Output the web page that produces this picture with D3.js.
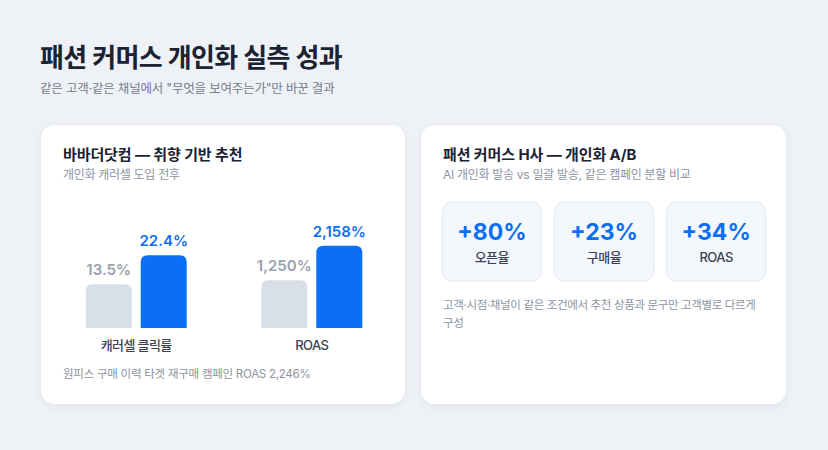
<!DOCTYPE html>
<html lang="ko">
<head>
<meta charset="utf-8">
<script src="https://cdn.jsdelivr.net/npm/d3@7"></script>
<style>
  html, body { margin: 0; padding: 0; background: #eef1f6; }
  svg { display: block; }
  text { font-family: Inter, "Noto Sans CJK KR", "Noto Sans", sans-serif; }
</style>
</head>
<body>
<svg id="chart" width="828" height="450"></svg>
<script>
// ---- data ----
const pageTitle = "패션 커머스 개인화 실측 성과";
const pageSubtitle = "같은 고객·같은 채널에서 \"무엇을 보여주는가\"만 바꾼 결과";

const leftTitle = "바바더닷컴 — 취향 기반 추천";
const leftSubtitle = "개인화 캐러셀 도입 전후";
const categories = ["캐러셀 클릭률", "ROAS"];
const beforeValues = [13.5, 1250];
const afterValues = [22.4, 2158];
const axisMax = [27.7, 2360];
const valueFormats = [".1f", ","];
const leftNote = "원피스 구매 이력 타겟 재구매 캠페인 ROAS 2,246%";

const rightTitle = "패션 커머스 H사 — 개인화 A/B";
const rightSubtitle = "AI 개인화 발송 vs 일괄 발송, 같은 캠페인 분할 비교";
const liftLabels = ["오픈율", "구매율", "ROAS"];
const liftValues = [80, 23, 34];
const rightNote = ["고객·시점·채널이 같은 조건에서 추천 상품과 문구만 고객별로 다르게", "구성"];

// ---- styles ----
const BLUE = "#0b6ff3";
const GRAY_BAR = "#d8dfe7";
const DARK = "#1b2333";
const MUTED = "#8b94a2";
const LABEL = "#3b4352";

const svg = d3.select("#chart");
const defs = svg.append("defs");
const f = defs.append("filter").attr("id", "shadow").attr("x", "-10%").attr("y", "-10%").attr("width", "120%").attr("height", "130%");
f.append("feDropShadow").attr("dx", 0).attr("dy", 2).attr("stdDeviation", 4).attr("flood-color", "#1b2a4a").attr("flood-opacity", 0.06);

// page header
svg.append("text").attr("x", 40).attr("y", 67).attr("font-size", 26).attr("font-weight", 700)
  .attr("letter-spacing", -0.6).attr("fill", DARK).text(pageTitle);
svg.append("text").attr("x", 40).attr("y", 93).attr("font-size", 12.5).attr("font-weight", 400)
  .attr("letter-spacing", -0.2).attr("fill", "#737d8c").text(pageSubtitle);

// cards
const cards = [{x: 41, y: 125, w: 364, h: 279}, {x: 421, y: 125, w: 365, h: 279}];
svg.selectAll("rect.card").data(cards).join("rect").attr("class", "card")
  .attr("x", d => d.x).attr("y", d => d.y).attr("width", d => d.w).attr("height", d => d.h)
  .attr("rx", 14).attr("fill", "#ffffff").attr("filter", "url(#shadow)");

function cardHeader(x, title, sub) {
  svg.append("text").attr("x", x).attr("y", 160).attr("font-size", 15).attr("font-weight", 700)
    .attr("letter-spacing", -0.1).attr("fill", DARK).text(title);
  svg.append("text").attr("x", x).attr("y", 179).attr("font-size", 12).attr("font-weight", 400)
    .attr("letter-spacing", -0.3).attr("fill", MUTED).text(sub);
}
cardHeader(63, leftTitle, leftSubtitle);
cardHeader(443, rightTitle, rightSubtitle);

// ---- left: grouped bars ----
const x0 = d3.scaleBand().domain(categories).range([48.4, 399.6]).padding(0);
const x1 = d3.scaleBand().domain(["before", "after"]).range([x0.bandwidth() / 2 - 50.5, x0.bandwidth() / 2 + 50.5]).paddingInner(0.164);
const yScales = categories.map((c, i) => d3.scaleLinear().domain([0, axisMax[i]]).range([328, 238]));

const barData = [];
categories.forEach((c, i) => {
  barData.push({cat: c, key: "before", value: beforeValues[i], i});
  barData.push({cat: c, key: "after", value: afterValues[i], i});
});

function topRoundedBar(x, y, w, h, r) {
  r = Math.min(r, h, w / 2);
  return `M${x},${y + h}V${y + r}Q${x},${y} ${x + r},${y}H${x + w - r}Q${x + w},${y} ${x + w},${y + r}V${y + h}Z`;
}

const bars = svg.append("g");
bars.selectAll("path.bar").data(barData).join("path").attr("class", "bar")
  .attr("d", d => {
    const y = yScales[d.i];
    const bx = x0(d.cat) + x1(d.key);
    return topRoundedBar(bx, y(d.value), x1.bandwidth(), y(0) - y(d.value), 7);
  })
  .attr("fill", d => d.key === "after" ? BLUE : GRAY_BAR);

bars.selectAll("text.val").data(barData).join("text").attr("class", "val")
  .attr("x", d => x0(d.cat) + x1(d.key) + x1.bandwidth() / 2)
  .attr("y", d => yScales[d.i](d.value) - 9)
  .attr("text-anchor", "middle").attr("font-size", 15).attr("font-weight", 600)
  .attr("fill", d => d.key === "after" ? BLUE : "#98a1ae")
  .text(d => d3.format(valueFormats[d.i])(d.value) + "%");

svg.append("g").selectAll("text").data(categories).join("text")
  .attr("x", d => x0(d) + x0.bandwidth() / 2).attr("y", 350)
  .attr("text-anchor", "middle").attr("font-size", 13).attr("font-weight", 500)
  .attr("letter-spacing", -0.6).attr("fill", LABEL).text(d => d);

svg.append("text").attr("x", 63).attr("y", 378).attr("font-size", 11.5).attr("font-weight", 400)
  .attr("letter-spacing", -0.25).attr("fill", MUTED).text(leftNote);

// ---- right: lift tiles ----
const xt = d3.scaleBand().domain(liftLabels).range([442.3, 765.7]).paddingInner(0.116);
const tiles = svg.append("g").selectAll("g").data(liftLabels.map((l, i) => ({label: l, value: liftValues[i]})))
  .join("g").attr("transform", d => `translate(${xt(d.label)},202)`);
tiles.append("rect").attr("width", xt.bandwidth()).attr("height", 79).attr("rx", 10)
  .attr("fill", "#f4f7fc").attr("stroke", "#e2e8f1").attr("stroke-width", 1);
tiles.append("text").attr("x", xt.bandwidth() / 2).attr("y", 38).attr("text-anchor", "middle")
  .attr("font-size", 23).attr("font-weight", 700).attr("fill", BLUE)
  .text(d => d3.format("+d")(d.value) + "%");
tiles.append("text").attr("x", xt.bandwidth() / 2).attr("y", 60).attr("text-anchor", "middle")
  .attr("font-size", 13).attr("font-weight", 500).attr("letter-spacing", -0.5).attr("fill", LABEL)
  .text(d => d.label);

svg.append("g").selectAll("text").data(rightNote).join("text")
  .attr("x", 443).attr("y", (d, i) => 309 + i * 18)
  .attr("font-size", 11.5).attr("font-weight", 400).attr("letter-spacing", -0.35).attr("fill", MUTED)
  .text(d => d);
</script>
</body>
</html>
